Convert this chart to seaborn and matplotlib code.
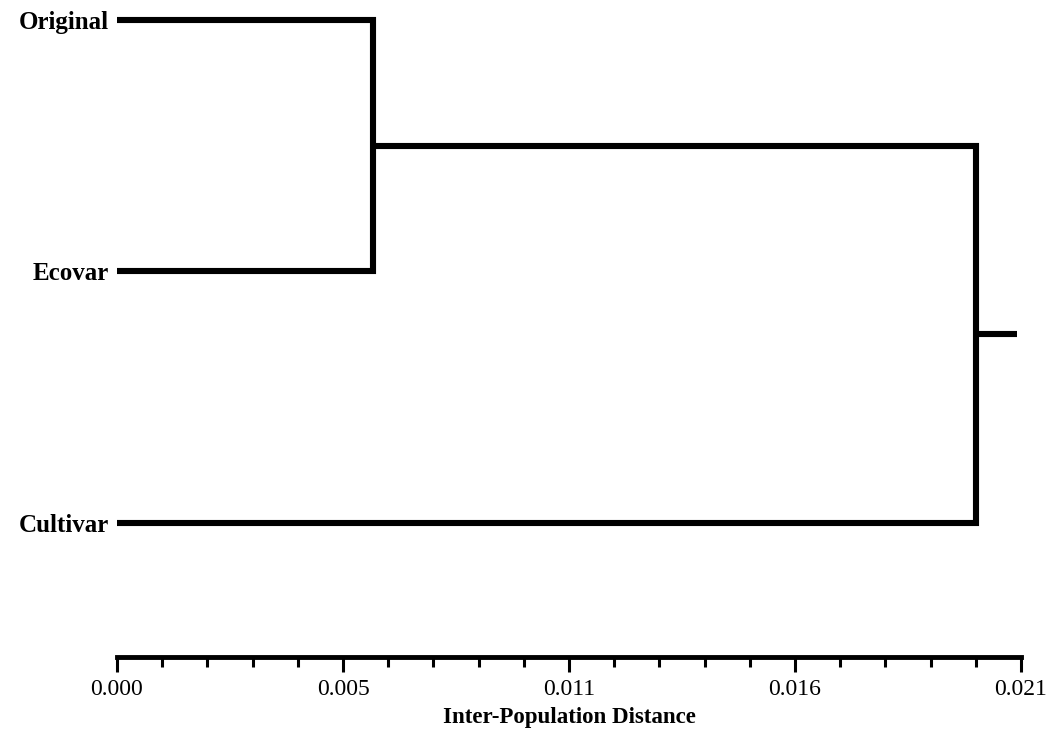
import numpy as np
import matplotlib
matplotlib.use("Agg")
import matplotlib.pyplot as plt
import seaborn as sns
from matplotlib.ticker import FixedLocator, FixedFormatter, MultipleLocator

# leaves, top to bottom
leaves = ["Original", "Ecovar", "Cultivar"]
# merge 1: Original + Ecovar, merge 2: (Original, Ecovar) + Cultivar
merge_heights = [0.00595, 0.01995]
root_end = 0.0209

axis_max = 0.021
tick_values = [0.0, 0.00525, 0.0105, 0.01575, 0.021]
tick_labels = ["0.000", "0.005", "0.011", "0.016", "0.021"]

sns.set_theme(style="white")
plt.rcParams["font.family"] = ["Liberation Serif", "DejaVu Serif"]
plt.rcParams.update({"text.color": "black", "axes.labelcolor": "black",
                     "xtick.color": "black", "ytick.color": "black"})

fig = plt.figure(figsize=(10.52, 7.44), dpi=100)
ax = fig.add_axes([117 / 1052, 1 - 657 / 744, 904 / 1052, 657 / 744])

lw = 4.4
ypos = np.arange(len(leaves))

# first cluster
y0, y1 = ypos[0], ypos[1]
h1 = merge_heights[0]
ax.plot([0, h1, h1, 0], [y0, y0, y1, y1], color="black", lw=lw,
        solid_joinstyle="miter", solid_capstyle="butt")
mid1 = (y0 + y1) / 2

# root cluster
y2 = ypos[2]
h2 = merge_heights[1]
ax.plot([h1, h2, h2, 0], [mid1, mid1, y2, y2], color="black", lw=lw,
        solid_joinstyle="miter", solid_capstyle="butt")
mid2 = (mid1 + y2) / 2
ax.plot([h2, root_end], [mid2, mid2], color="black", lw=lw, solid_capstyle="butt")

ax.set_xlim(0, axis_max)
ax.set_ylim(2.533, -0.0795)

for s in ["top", "right", "left"]:
    ax.spines[s].set_visible(False)
ax.spines["bottom"].set_linewidth(3.5)
ax.spines["bottom"].set_color("black")

ax.xaxis.set_major_locator(FixedLocator(tick_values))
ax.xaxis.set_major_formatter(FixedFormatter(tick_labels))
ax.xaxis.set_minor_locator(MultipleLocator(axis_max / 20))
ax.tick_params(axis="x", which="major", direction="out", length=11, width=2.2,
               color="black", bottom=True, labelsize=17, pad=5)
ax.tick_params(axis="x", which="minor", direction="out", length=7, width=2.2,
               color="black", bottom=True)

ax.set_yticks(ypos)
ax.set_yticklabels(leaves, fontweight="bold", fontsize=18)
ax.tick_params(axis="y", length=0, pad=6)

ax.set_xlabel("Inter-Population Distance", fontweight="bold", fontsize=16.5, labelpad=5)
ax.grid(False)

fig.savefig("out.png", dpi=100)
plt.close(fig)
